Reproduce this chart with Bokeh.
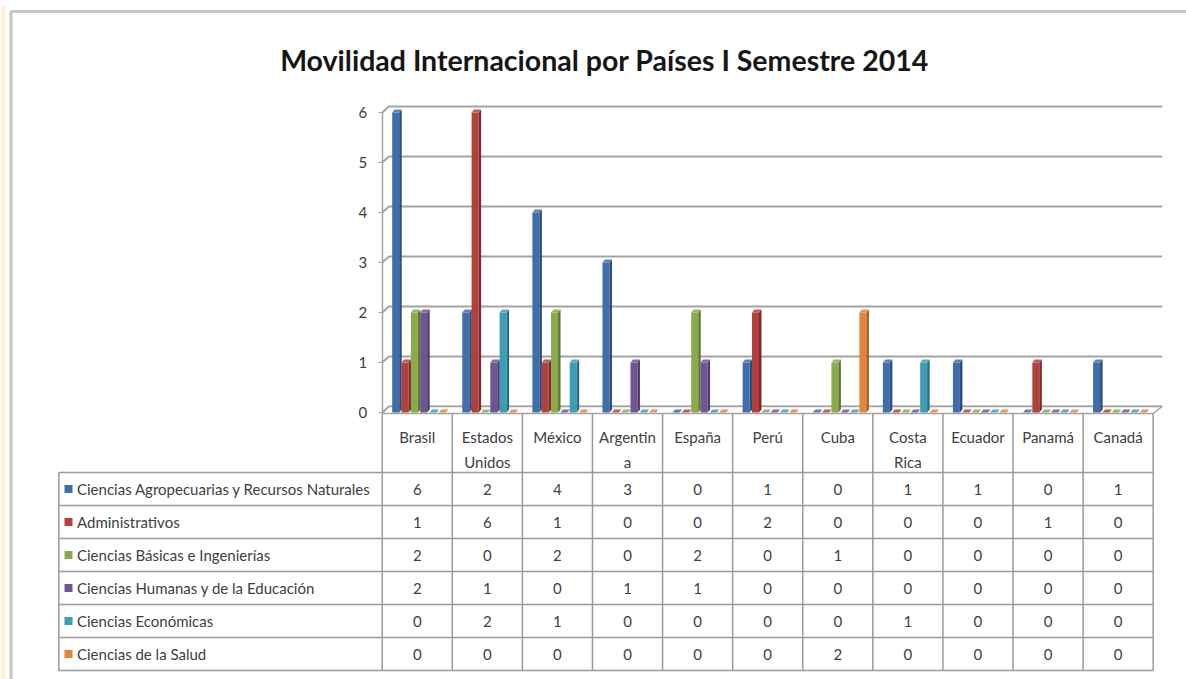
from bokeh.plotting import figure
from bokeh.models import Range1d, FixedTicker, ColumnDataSource
from bokeh.core.properties import value
from bokeh.embed import file_html
from bokeh.resources import INLINE

# ---------------- data ----------------
title = "Movilidad Internacional por Países I Semestre 2014"
countries = ["Brasil", "Estados\nUnidos", "México", "Argentin\na", "España", "Perú",
             "Cuba", "Costa\nRica", "Ecuador", "Panamá", "Canadá"]
series = ["Ciencias Agropecuarias y Recursos Naturales", "Administrativos",
          "Ciencias Básicas e Ingenierías", "Ciencias Humanas y de la Educación",
          "Ciencias Económicas", "Ciencias de la Salud"]
agro = [6, 2, 4, 3, 0, 1, 0, 1, 1, 0, 1]
admin = [1, 6, 1, 0, 0, 2, 0, 0, 0, 1, 0]
basicas = [2, 0, 2, 0, 2, 0, 1, 0, 0, 0, 0]
humanas = [2, 1, 0, 1, 1, 0, 0, 0, 0, 0, 0]
economicas = [0, 2, 1, 0, 0, 0, 0, 1, 0, 0, 0]
salud = [0, 0, 0, 0, 0, 0, 2, 0, 0, 0, 0]
values = [agro, admin, basicas, humanas, economicas, salud]
yticks = [0, 1, 2, 3, 4, 5, 6]

colors = ["#3E6EAB", "#B2403D", "#8AAB4C", "#6F5596", "#3B9DB6", "#E4853B"]

# ---------------- layout (page pixels) ----------------
W, H = 1186, 679
PAGE = 0
X0, SX = 381.7, 70.09      # category 0 left edge, px per category
Y0, SY = 412.0, 50.0       # value 0 baseline, px per unit


def cx(px):
    return (px - X0) / SX


def cy(py):
    return (Y0 - py) / SY


def shade(c, f):
    r, g, b = int(c[1:3], 16), int(c[3:5], 16), int(c[5:7], 16)
    if f < 1:
        r, g, b = r * f, g * f, b * f
    else:
        t = f - 1
        r, g, b = r + (255 - r) * t, g + (255 - g) * t, b + (255 - b) * t
    return "#%02x%02x%02x" % (int(r), int(g), int(b))


p = figure(width=W, height=H,
           x_range=Range1d(cx(PAGE), cx(PAGE + W)),
           y_range=Range1d(cy(PAGE + H), cy(PAGE)),
           output_backend="svg", toolbar_location=None, min_border=0,
           background_fill_color="white", border_fill_color="white",
           outline_line_color=None)
p.xaxis.visible = False
p.xgrid.visible = False
p.ygrid.visible = False

FONT = value("Lato")
TXT = "#404040"
GRID = "#a3a3a3"
TABLE = "#9a9a9a"
FS = "15px"

# pale strip at the far left of the page
p.quad(left=[cx(1)], right=[cx(5)], bottom=[cy(PAGE + H + 5)], top=[cy(5)],
       fill_color="#fff2cc", line_color=None)

# outer chart border (left and top)
p.line(x=[cx(10.5), cx(10.5), cx(PAGE + W + 5)], y=[cy(PAGE + H + 5), cy(11), cy(11)],
       line_color="#c6c6c6", line_width=3)

# title
p.text(x=[cx(604)], y=[cy(59)], text=[title], text_font=FONT, text_font_size="28.5px",
       text_font_style="bold", text_color="#161616", text_align="center",
       text_baseline="alphabetic")

# back wall gridlines (with left side-wall slant)
DXW = cx(388.5)
DYW = 6.0 / SY
XR = cx(1161.7)
p.multi_line(xs=[[0, DXW, XR] for v in yticks],
             ys=[[v, v + DYW, v + DYW] for v in yticks],
             line_color=GRID, line_width=2)

# floor
p.patch(x=[cx(381.7), len(countries), len(countries) + cx(1161.7) - cx(1152.7), DXW],
        y=[cy(413), cy(413), DYW, DYW],
        fill_color="white", line_color=GRID, line_width=1.5)

# y axis on the side wall front edge
yax = p.yaxis[0]
yax.fixed_location = 0
yax.bounds = (0, max(yticks))
yax.ticker = FixedTicker(ticks=yticks)
yax.minor_tick_line_color = None
yax.major_tick_out = 4
yax.major_tick_in = 0
yax.axis_line_color = GRID
yax.axis_line_width = 1.5
yax.major_tick_line_color = GRID
yax.major_label_text_font = "Lato"
yax.major_label_text_font_size = FS
yax.major_label_text_color = TXT
yax.major_label_standoff = 11

# 3D-style bars
BAR_OFF = 10.0 / SX
BAR_STEP = 9.33 / SX
BAR_W = 7.0 / SX
DX = 2.5 / SX
DY = 3.0 / SY
xs, ys, fills = [], [], []
for i in range(len(countries)):
    for j, vals in enumerate(values):
        v = vals[i]
        x0 = i + BAR_OFF + j * BAR_STEP
        x1 = x0 + BAR_W
        c = colors[j]
        if v > 0:
            xs.append([x0, x1, x1, x0]); ys.append([0, 0, v, v]); fills.append(c)
            xs.append([x1, x1 + DX, x1 + DX, x1]); ys.append([0, DY, v + DY, v]); fills.append(shade(c, 0.7))
        xs.append([x0, x1, x1 + DX, x0 + DX]); ys.append([v, v, v + DY, v + DY]); fills.append(shade(c, 1.15))
src = ColumnDataSource(dict(xs=xs, ys=ys, fill=fills))
p.patches(xs="xs", ys="ys", fill_color="fill", line_color=None, source=src)

# ---------------- data table ----------------
ROW_TOP = 472.0
ROW_H = 33.0
LEFT = 58.3
n_rows = len(series)
n_cols = len(countries)
# horizontal lines
p.multi_line(xs=[[cx(LEFT), n_cols] for k in range(n_rows + 1)],
             ys=[[cy(ROW_TOP + ROW_H * k)] * 2 for k in range(n_rows + 1)],
             line_color=TABLE, line_width=1.5)
# vertical lines between countries
p.multi_line(xs=[[i, i] for i in range(n_cols + 1)],
             ys=[[cy(413), cy(ROW_TOP + ROW_H * n_rows)] for i in range(n_cols + 1)],
             line_color=TABLE, line_width=1.5)
# left border of the series label column
p.line(x=[cx(LEFT), cx(LEFT)], y=[cy(ROW_TOP), cy(ROW_TOP + ROW_H * n_rows)],
       line_color=TABLE, line_width=1.5)

# header (country names)
p.text(x=[i + 0.5 for i in range(n_cols)], y=[cy(427)] * n_cols, text=countries,
       text_font=FONT, text_font_size=FS, text_color=TXT, text_align="center",
       text_baseline="top", text_line_height=1.4)

# row labels with colour keys
row_y = [cy(ROW_TOP + ROW_H * (r + 0.5)) for r in range(n_rows)]
p.scatter(x=[cx(68)] * n_rows, y=row_y, marker="square", size=8,
          fill_color=colors, line_color=None)
p.text(x=[cx(76.5)] * n_rows, y=row_y, text=series, text_font=FONT,
       text_font_size=FS, text_color=TXT, text_align="left", text_baseline="middle")

# cell values
cx_list, cy_list, ct = [], [], []
for r, vals in enumerate(values):
    for i, v in enumerate(vals):
        cx_list.append(i + 0.5)
        cy_list.append(row_y[r])
        ct.append(str(v))
p.text(x=cx_list, y=cy_list, text=ct, text_font=FONT, text_font_size=FS,
       text_color=TXT, text_align="center", text_baseline="middle")

open("out.html", "w").write(file_html(p, INLINE))
